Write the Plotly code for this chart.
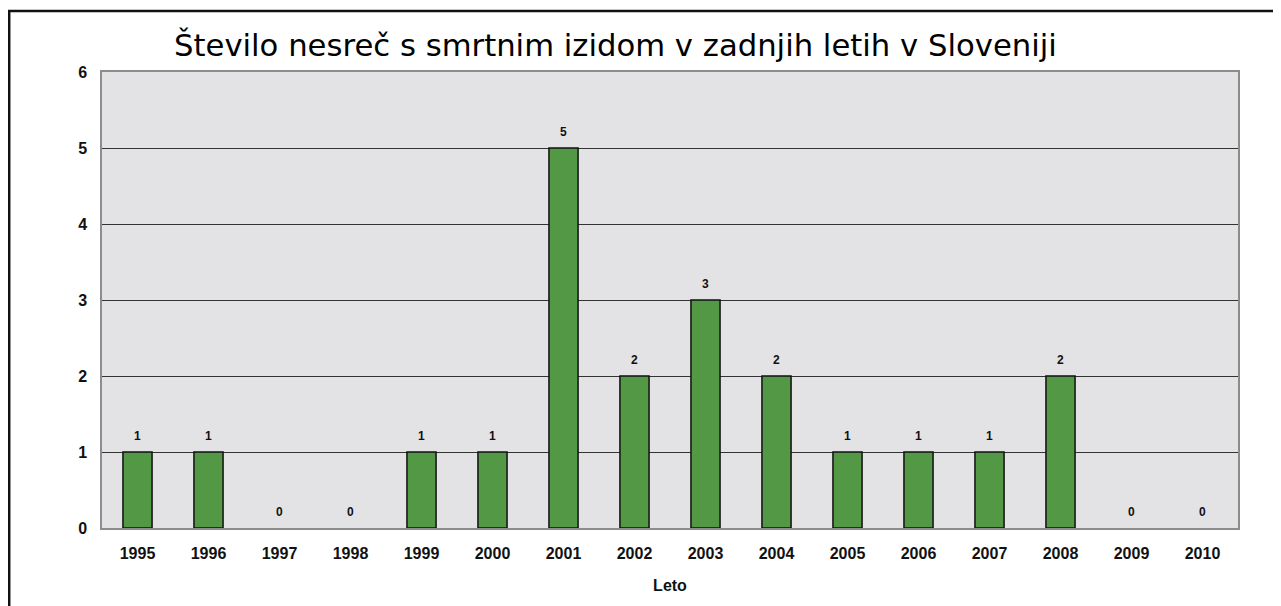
import plotly.graph_objects as go

years = ["1995", "1996", "1997", "1998", "1999", "2000", "2001", "2002",
         "2003", "2004", "2005", "2006", "2007", "2008", "2009", "2010"]
counts = [1, 1, 0, 0, 1, 1, 5, 2, 3, 2, 1, 1, 1, 2, 0, 0]
y_ticks = [0, 1, 2, 3, 4, 5, 6]

title_text = "Število nesreč s smrtnim izidom v zadnjih letih v Sloveniji"
x_title = "Leto"

fig = go.Figure()
fig.add_trace(go.Bar(
    x=years, y=counts,
    marker=dict(color="#529845",
                line=dict(color="#111111", width=[1.5 if c > 0 else 0 for c in counts])),
    hoverinfo="x+y",
))

annotations = []
for i, c in enumerate(counts):
    annotations.append(dict(
        x=i, y=c, xref="x", yref="y", text=str(c), showarrow=False,
        yanchor="bottom", yshift=7,
        font=dict(family="Liberation Sans, Arial", size=12, color="#111111", weight="bold"),
    ))
annotations.append(dict(
    x=0.4516, y=1.0, xref="paper", yref="paper", xanchor="center", yanchor="bottom",
    yshift=7, text=title_text, showarrow=False,
    font=dict(family="DejaVu Sans", size=30.7, color="#000000"),
))

# page has an 8px body margin: figure origin is at page (8, 8)
W, H = 1273, 598
L, T = 94, 64
pw, ph = 1136, 456
R, B = W - L - pw, H - T - ph
bx = (1.2 - L) / pw
by = (H - B - 3) / ph

fig.update_layout(
    width=W, height=H,
    margin=dict(l=L, r=R, t=T, b=B, autoexpand=False),
    paper_bgcolor="white",
    plot_bgcolor="#e3e3e5",
    bargap=0.59,
    showlegend=False,
    annotations=annotations,
    shapes=[dict(type="path", xref="paper", yref="paper",
                 path=f"M {bx},{-0.3} L {bx},{by} L 1.1,{by}",
                 line=dict(color="#111111", width=2.5), layer="above")],
    xaxis=dict(
        type="category", range=[-0.5, len(years) - 0.5],
        showgrid=False, showline=True, linecolor="#8c8c8c", linewidth=1.5,
        mirror=True, ticks="", ticklabelstandoff=10,
        tickfont=dict(family="Liberation Sans, Arial", size=16, color="#111111", weight="bold"),
        title=dict(text=x_title, standoff=19,
                   font=dict(family="Liberation Sans, Arial", size=16, color="#111111", weight="bold")),
    ),
    yaxis=dict(
        range=[0, 6], tickvals=y_ticks, showgrid=True, gridcolor="#333333", gridwidth=1.2,
        showline=True, linecolor="#8c8c8c", linewidth=1.5, mirror=True, zeroline=False,
        ticks="", ticklabelstandoff=10,
        tickfont=dict(family="Liberation Sans, Arial", size=16, color="#111111", weight="bold"),
    ),
)

fig.write_html("out.html")
